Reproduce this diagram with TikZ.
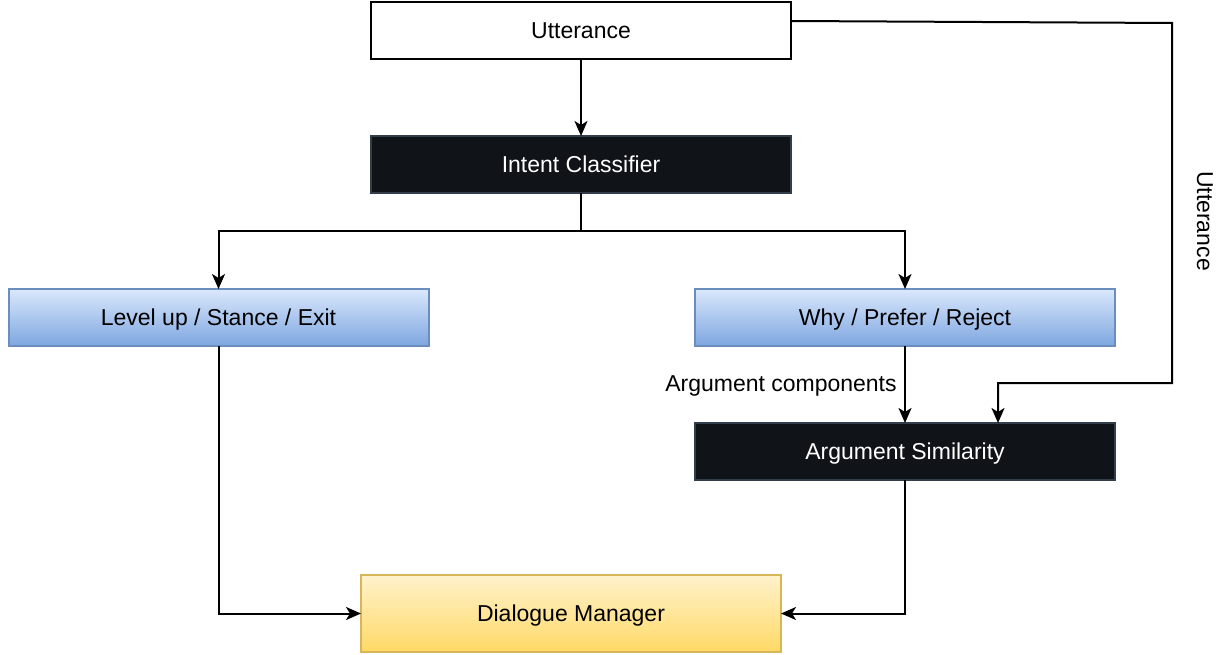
\documentclass[tikz,border=0pt]{standalone}
\usepackage{fontspec}
\setmainfont{Liberation Sans}
\usetikzlibrary{arrows.meta,positioning}

\begin{document}
\begin{tikzpicture}[x=1pt, y=-1pt, line width=2pt,
    every node/.style={font=\fontsize{23}{27}\selectfont},
    >={Stealth[length=15pt,width=13pt,inset=4pt]}]
  % Colors
  \definecolor{darkfill}{RGB}{16,20,24}
  \definecolor{darkline}{RGB}{50,62,74}
  \definecolor{bluetop}{RGB}{218,232,252}
  \definecolor{bluebot}{RGB}{126,166,224}
  \definecolor{blueline}{RGB}{108,142,191}
  \definecolor{yellowtop}{RGB}{255,242,204}
  \definecolor{yellowbot}{RGB}{255,217,102}
  \definecolor{yellowline}{RGB}{214,182,86}

  % Styles
  \tikzset{
    box/.style={rectangle, minimum width=420pt, minimum height=57pt, inner sep=0pt, outer sep=0pt,
      text height=16.5pt, text depth=0pt},
    plainbox/.style={box, draw=black, fill=white},
    darkbox/.style={box, draw=darkline, fill=darkfill, text=white},
    bluebox/.style={box, draw=blueline, top color=bluetop, bottom color=bluebot},
    yellowbox/.style={box, draw=yellowline, top color=yellowtop, bottom color=yellowbot}
  }

  \useasboundingbox (0,0) rectangle (1228,655);

  % Boxes
  \node[plainbox] (utt) at (581,30.5) {Utterance};
  \node[darkbox] (ic) at (581,164.5) {Intent Classifier};
  \node[bluebox] (lvl) at (218.5,317.5) {Level up / Stance / Exit};
  \node[bluebox] (why) at (905,317.5) {Why / Prefer / Reject};
  \node[darkbox] (sim) at (905,451.5) {Argument Similarity};
  \node[yellowbox, minimum height=77pt] (dm) at (571,613.5) {Dialogue Manager};

  % Connectors
  \draw[->] (utt) -- (ic);
  \draw[->] (ic.south) -- ++(0,38) -| (lvl.north);
  \draw[->] (ic.south) -- ++(0,38) -| (why.north);
  \draw[->] (lvl.south) |- (dm.west);
  \draw[->] (why) -- (sim) node[midway, left, xshift=-4pt, yshift=-1pt] {Argument components};
  \draw[->] (sim.south) |- (dm.east);

  % Utterance passed on to the similarity step
  \coordinate (uttcorner) at (1172,23);
  \coordinate (simin) at (1172,383);
  \draw[->] ([yshift=9.5pt]utt.east) -- (uttcorner) -- (simin) -| ([xshift=93pt]sim.north);
  \node[rotate=-90] (uttlabel) at (1205,221) {Utterance};
\end{tikzpicture}
\end{document}
